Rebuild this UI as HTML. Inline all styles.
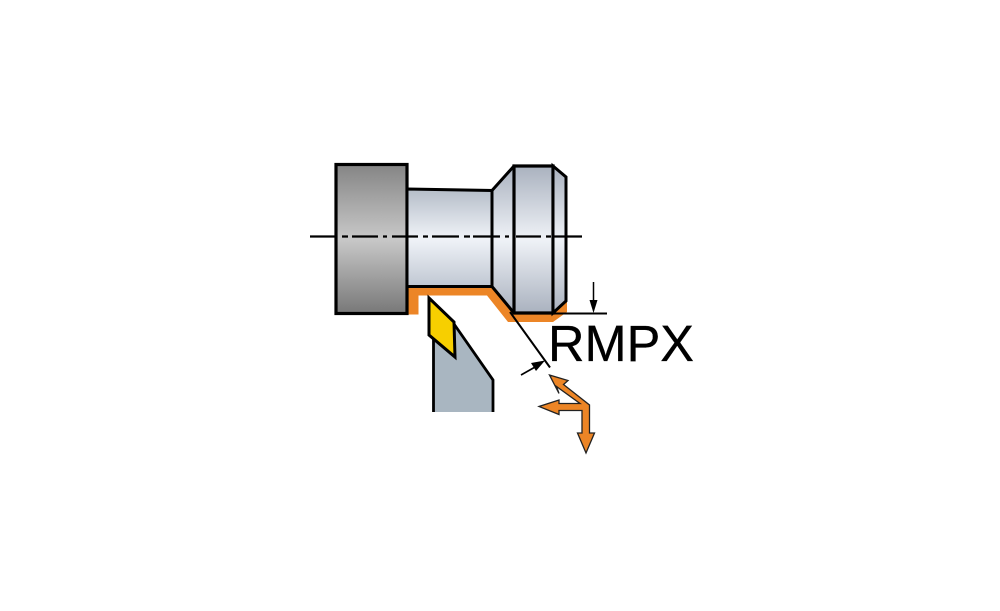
<!DOCTYPE html>
<html><head><meta charset="utf-8"><style>html,body{margin:0;padding:0;background:#fff;width:1000px;height:611px;overflow:hidden}svg{display:block}</style></head>
<body>
<svg width="1000" height="611" viewBox="0 0 1000 611" xmlns="http://www.w3.org/2000/svg">
<defs>
<linearGradient id="g" x1="0" y1="0" x2="0" y2="1"><stop offset="0" stop-color="#858585"/><stop offset=".5" stop-color="#c8c8c8"/><stop offset="1" stop-color="#787878"/></linearGradient>
<linearGradient id="b" gradientUnits="userSpaceOnUse" x1="0" y1="166" x2="0" y2="313"><stop offset="0" stop-color="#aab2bf"/><stop offset=".5" stop-color="#eff2f7"/><stop offset="1" stop-color="#aab2bf"/></linearGradient>
<linearGradient id="n" gradientUnits="userSpaceOnUse" x1="0" y1="190" x2="0" y2="287"><stop offset="0" stop-color="#b6bec9"/><stop offset=".5" stop-color="#f0f3f8"/><stop offset="1" stop-color="#c0c7d2"/></linearGradient>
<filter id="s" x="300" y="150" width="420" height="320" filterUnits="userSpaceOnUse"><feGaussianBlur stdDeviation=".35"/></filter>
</defs>
<g filter="url(#s)">
<path d="M408 286H492L514 313H553L567 300V312L553 322H508L487 295.500H418.500V314.500H408Z" fill="#ec8526"/>
<rect x="336" y="164.500" width="71" height="149" fill="url(#g)" stroke="#000" stroke-width="3.200"/>
<path d="M407 189L492 190.500V286.500H407Z" fill="url(#n)" stroke="#000" stroke-width="3"/>
<path d="M492 190.500L514 166V313L492 286.500Z" fill="url(#b)" stroke="#000" stroke-width="3" stroke-linejoin="round"/>
<path d="M514 166H553V313H514Z" fill="url(#b)" stroke="#000" stroke-width="3.200"/>
<path d="M553 166L566 177V301L553 313Z" fill="url(#b)" stroke="#000" stroke-width="3"/>
<path d="M310 236.500H335M342 236.500H348M352 236.500H378M383 236.500H387M392 236.500H418M423 236.500H428M432 236.500H459M464 236.500H470M473 236.500H500M505 236.500H509M516 236.500H541M546 236.500H551M554 236.500H582" stroke="#000" stroke-width="2.200" fill="none"/>
<path d="M433 338L454 322L493 380V412H433Z" fill="#a9b6c1"/>
<path d="M433.500 338V412M454 324L493 380V412" stroke="#000" stroke-width="2.800" fill="none"/>
<path d="M429 298L454 322L455 357L429 335Z" fill="#f7cf00" stroke="#000" stroke-width="3"/>
<path d="M553 313.500H607" stroke="#000" stroke-width="2"/>
<path d="M593.500 282V302" stroke="#000" stroke-width="1.500"/>
<path d="M589.500 300H597.500L593.500 313Z" fill="#000"/>
<path d="M510 312L550 367.500" stroke="#000" stroke-width="2"/>
<path d="M521 375L536 366.500" stroke="#000" stroke-width="1.600"/>
<path d="M545 360.500L536 371L531 363Z" fill="#000"/>
<path d="M549.500 375L568 380.500L563.500 384.500L589.500 405V433H594.500L586 453L577.500 433H582V410.500H559V414.500L539 406.500L559 400V403.500H580L556.500 386.500L559 393.500Z" fill="#ec8526" stroke="#222" stroke-width="1.300" stroke-linejoin="miter"/>
<text x="548" y="361" font-family="'Liberation Sans',Arial,sans-serif" font-size="51" fill="#000" stroke="#000" stroke-width=".3" textLength="146" lengthAdjust="spacingAndGlyphs">RMPX</text>
</g>
</svg>
</body></html>
